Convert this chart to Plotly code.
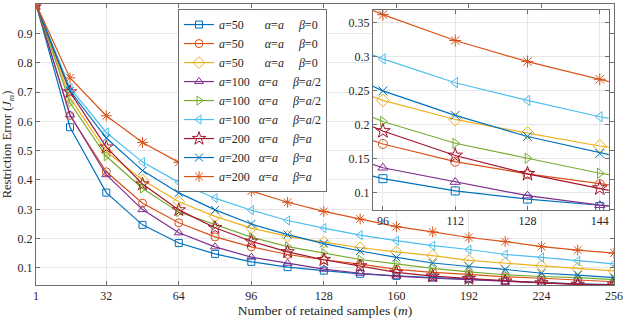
import plotly.graph_objects as go

m_vals = [1, 16, 32, 48, 64, 80, 96, 112, 128, 144, 160, 176, 192, 208, 224, 240, 256]

s1_a50 = [1.0, 0.58, 0.357, 0.247, 0.185, 0.148, 0.121, 0.103, 0.091, 0.080, 0.073, 0.067, 0.062, 0.055, 0.050, 0.046, 0.043]
s2_a50 = [1.0, 0.62, 0.428, 0.321, 0.254, 0.206, 0.172, 0.146, 0.128, 0.113, 0.095, 0.085, 0.078, 0.070, 0.065, 0.059, 0.053]
s3_a50 = [1.0, 0.68, 0.497, 0.400, 0.326, 0.276, 0.236, 0.208, 0.188, 0.169, 0.155, 0.142, 0.126, 0.116, 0.107, 0.099, 0.090]
s4_a100 = [1.0, 0.622, 0.418, 0.299, 0.220, 0.172, 0.137, 0.116, 0.096, 0.082, 0.072, 0.065, 0.060, 0.053, 0.048, 0.045, 0.042]
s5_a100 = [1.0, 0.663, 0.481, 0.371, 0.291, 0.247, 0.205, 0.173, 0.151, 0.129, 0.114, 0.099, 0.087, 0.077, 0.071, 0.067, 0.060]
s6_a100 = [1.0, 0.714, 0.562, 0.461, 0.392, 0.338, 0.297, 0.262, 0.236, 0.212, 0.193, 0.176, 0.163, 0.146, 0.136, 0.124, 0.114]
s7_a200 = [1.0, 0.700, 0.512, 0.386, 0.298, 0.237, 0.191, 0.155, 0.128, 0.107, 0.085, 0.072, 0.064, 0.055, 0.049, 0.044, 0.042]
s8_a200 = [1.0, 0.704, 0.543, 0.432, 0.356, 0.298, 0.250, 0.214, 0.183, 0.158, 0.136, 0.117, 0.105, 0.095, 0.082, 0.076, 0.067]
s9_a200 = [1.0, 0.748, 0.619, 0.528, 0.460, 0.406, 0.362, 0.324, 0.293, 0.267, 0.241, 0.223, 0.204, 0.190, 0.173, 0.161, 0.151]

series = [s1_a50, s2_a50, s3_a50, s4_a100, s5_a100, s6_a100, s7_a200, s8_a200, s9_a200]
a_labels = ["50", "50", "50", "100", "100", "100", "200", "200", "200"]
beta_labels = ["0", "0", "0", "<i>a</i>/2", "<i>a</i>/2", "<i>a</i>/2", "<i>a</i>", "<i>a</i>", "<i>a</i>"]

colors = ["#0072BD", "#D95319", "#EDB120", "#7E2F8E", "#77AC30", "#4DBEEE", "#A2142F", "#0072BD", "#D95319"]
symbols = ["square-open", "circle-open", "diamond-open", "triangle-up-open", "triangle-right-open",
           "triangle-left-open", "star-open", "x-thin-open", "asterisk-open"]
sizes = [7, 8, 9, 8, 8, 8, 10, 8, 9]

x_ticks = [1, 32, 64, 96, 128, 160, 192, 224, 256]
y_ticks = [0.1, 0.2, 0.3, 0.4, 0.5, 0.6, 0.7, 0.8, 0.9, 1.0]
y_ticktext = ["0.1", "0.2", "0.3", "0.4", "0.5", "0.6", "0.7", "0.8", "0.9", "1"]
inset_x_ticks = [96, 112, 128, 144]
inset_y_ticks = [0.1, 0.15, 0.2, 0.25, 0.3, 0.35]

FONT = "Liberation Serif"
TXT = "#262626"
AX = "#6e6e6e"
GRID = "#e6e6e6"

fig = go.Figure()
for i, ys in enumerate(series):
    pad = "\u2007\u2007" if a_labels[i] == "50" else ""
    name = (f"<i>a</i>={a_labels[i]}{pad}\u00a0\u00a0\u00a0<i>α</i>=<i>a</i>"
            f"\u00a0\u00a0\u00a0\u00a0\u00a0<i>β</i>={beta_labels[i]}")
    for ax in ("main", "inset"):
        fig.add_trace(go.Scatter(
            x=m_vals, y=ys, mode="lines+markers", name=name,
            showlegend=(ax == "main"),
            xaxis="x" if ax == "main" else "x2",
            yaxis="y" if ax == "main" else "y2",
            line=dict(color=colors[i], width=1.2),
            marker=dict(symbol=symbols[i], size=sizes[i] + (1 if ax == "inset" else 0),
                        color=colors[i], line=dict(color=colors[i], width=1)),
        ))

axis_common = dict(showline=True, linecolor=AX, linewidth=1, mirror="ticks", ticks="inside",
                   ticklen=4, tickcolor=AX, showgrid=True, gridcolor=GRID, zeroline=False,
                   automargin=False, tickfont=dict(family=FONT, size=12, color=TXT))

fig.update_layout(
    width=623, height=319,
    margin=dict(l=36, r=9, t=4, b=34),
    paper_bgcolor="white", plot_bgcolor="rgb(255,255,255)",
    font=dict(family=FONT, size=12, color=TXT),
    xaxis=dict(domain=[0, 1], range=[1, 256], tickvals=x_ticks,
               title=dict(text="Number of retained samples (<i>m</i>)", font=dict(size=13.5), standoff=0),
               **axis_common),
    yaxis=dict(domain=[0, 1], range=[0.042, 1.0], tickvals=y_ticks, ticktext=y_ticktext,
               title=dict(text="Restriction Error (<i>J</i><sub><i>m</i></sub>)", font=dict(size=12.5), standoff=4),
               **axis_common),
    xaxis2=dict(domain=[0.583, 0.991], range=[93.8, 146], tickvals=inset_x_ticks, anchor="y2",
                **axis_common),
    yaxis2=dict(domain=[0.267, 0.979], range=[0.075, 0.369], tickvals=inset_y_ticks, anchor="x2",
                **axis_common),
    legend=dict(x=0.2457, y=0.982, xanchor="left", yanchor="top", bgcolor="white",
                bordercolor=AX, borderwidth=1, font=dict(family=FONT, size=12, color=TXT),
                itemwidth=30, tracegroupgap=0),
)

fig.write_html("out.html", config={"displayModeBar": False},
               post_script="document.body.style.margin='0';document.body.style.padding='0';")
